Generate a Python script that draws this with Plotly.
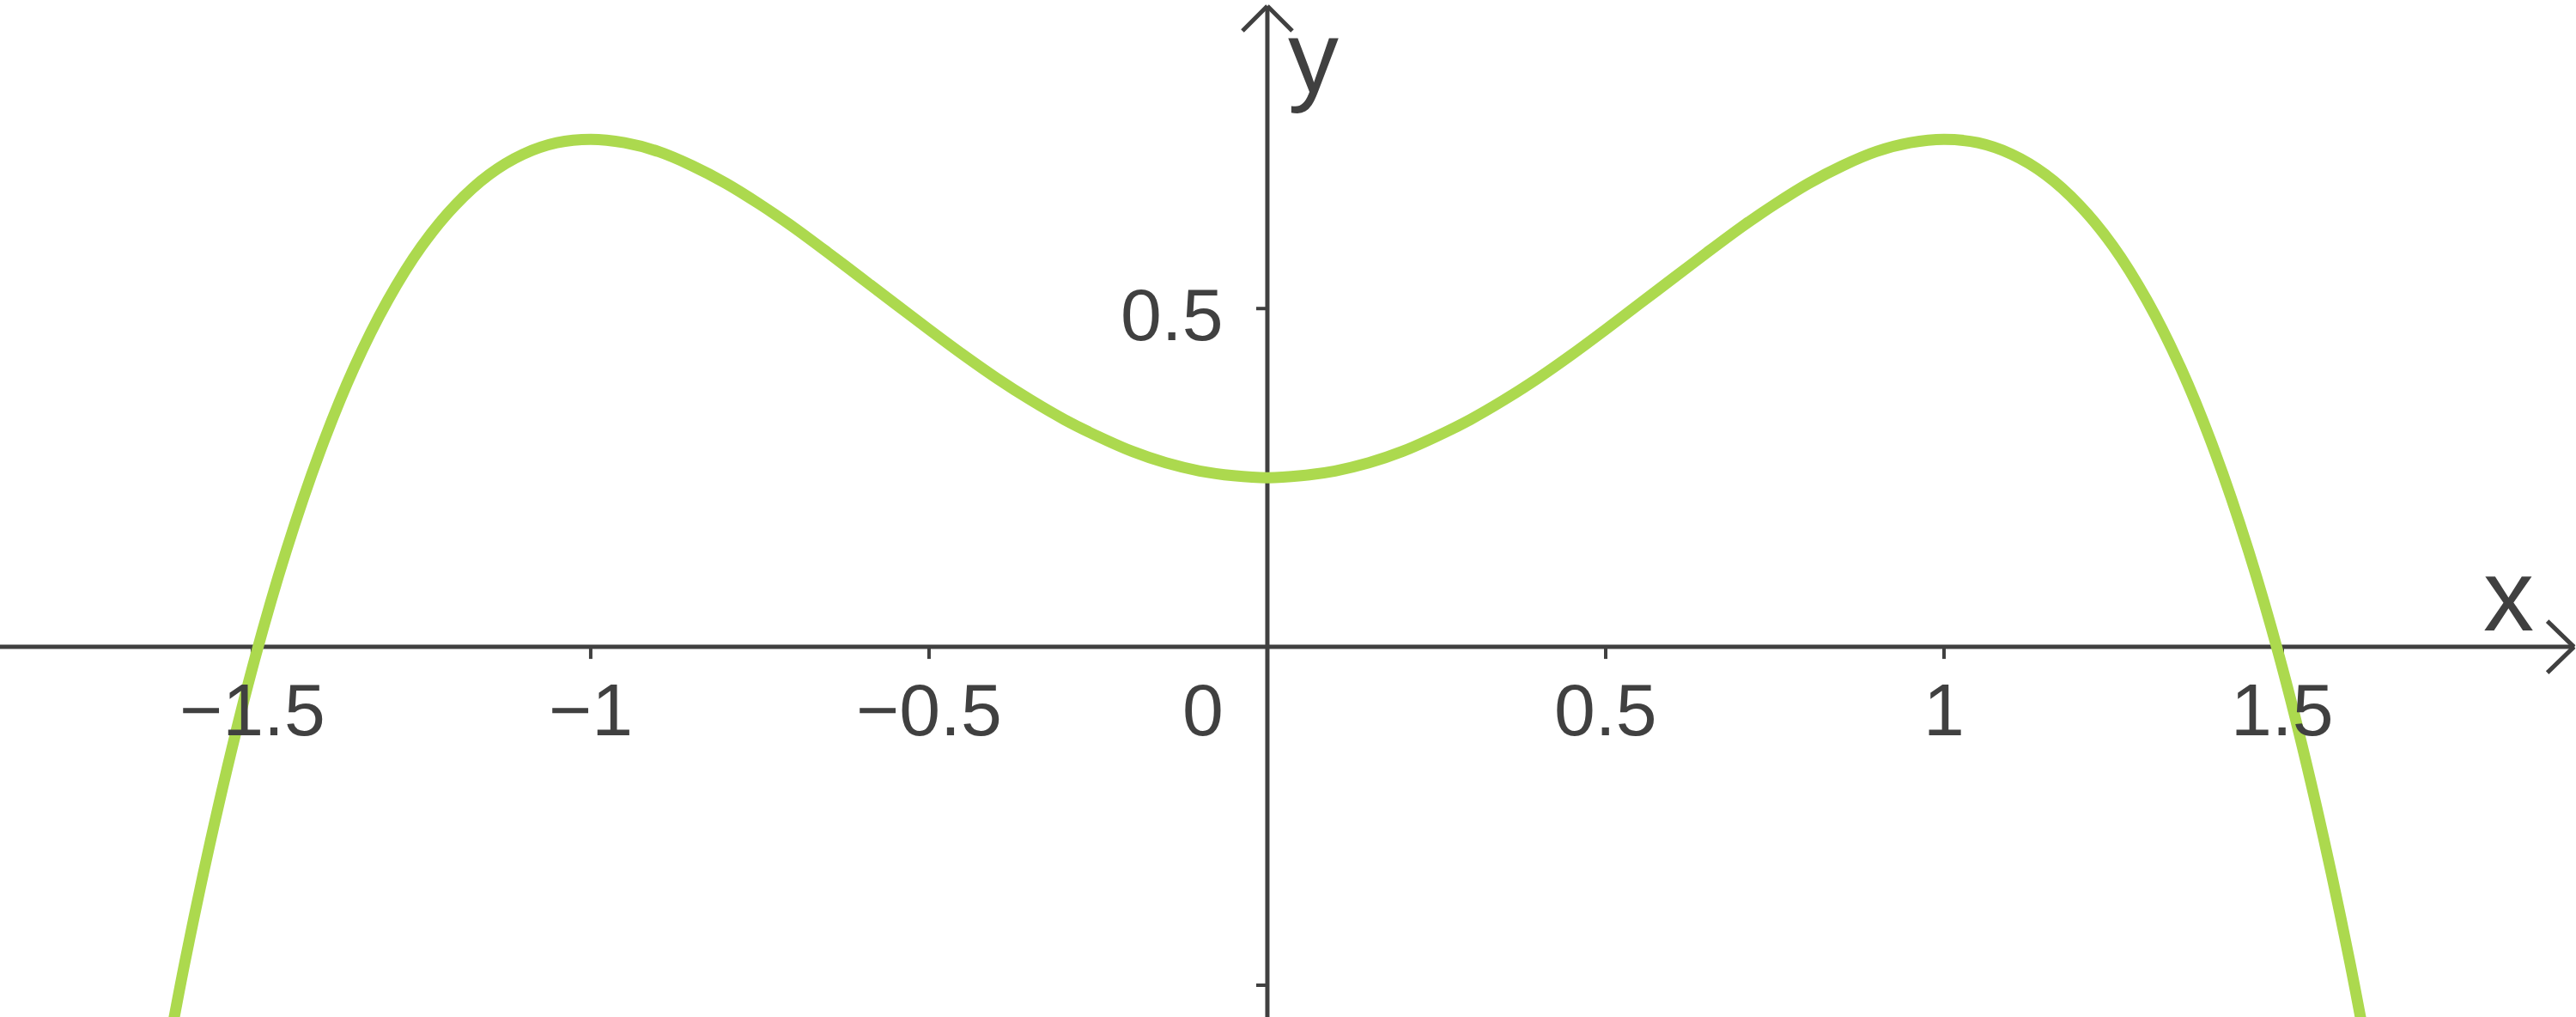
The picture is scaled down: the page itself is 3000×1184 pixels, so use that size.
import plotly.graph_objects as go

# curve samples
x_values = [-1.65, -1.6, -1.55, -1.5, -1.45, -1.4, -1.35, -1.3, -1.25, -1.2, -1.15, -1.1, -1.05,
            -1.0, -0.95, -0.9, -0.85, -0.8, -0.75, -0.7, -0.65, -0.6, -0.55, -0.5, -0.45,
            -0.4, -0.35, -0.3, -0.25, -0.2, -0.15, -0.1, -0.05, 0.0,
            0.05, 0.1, 0.15, 0.2, 0.25, 0.3, 0.35, 0.4, 0.45, 0.5, 0.55, 0.6, 0.65,
            0.7, 0.75, 0.8, 0.85, 0.9, 0.95, 1.0, 1.05, 1.1, 1.15, 1.2, 1.25,
            1.3, 1.35, 1.4, 1.45, 1.5, 1.55, 1.6, 1.65]
y_values = [-0.734, -0.467, -0.234, -0.031, 0.142, 0.289, 0.412, 0.512, 0.592, 0.653, 0.698, 0.728, 0.745,
            0.750, 0.745, 0.732, 0.711, 0.685, 0.654, 0.620, 0.583, 0.545, 0.507, 0.469, 0.432,
            0.397, 0.365, 0.336, 0.311, 0.289, 0.272, 0.260, 0.253, 0.250,
            0.253, 0.260, 0.272, 0.289, 0.311, 0.336, 0.365, 0.397, 0.432, 0.469, 0.507, 0.545, 0.583,
            0.620, 0.654, 0.685, 0.711, 0.732, 0.745, 0.750, 0.745, 0.728, 0.698, 0.653, 0.592,
            0.512, 0.412, 0.289, 0.142, -0.031, -0.234, -0.467, -0.734]

x_ticks = [-1.5, -1.0, -0.5, 0.0, 0.5, 1.0, 1.5]
x_tick_text = ["−1.5", "−1", "−0.5", "0", "0.5", "1", "1.5"]
y_ticks = [0.5, -0.5]
y_tick_text = ["0.5", ""]

x_range = [-1.873, 1.934]
y_range = [-0.547, 0.956]

axis_color = "#404040"
curve_color = "#acd94e"
font_family = "Liberation Sans, Arial, sans-serif"

fig = go.Figure()
fig.add_trace(go.Scatter(x=x_values, y=y_values, mode="lines",
                         line=dict(color=curve_color, width=13, shape="spline", smoothing=0.8),
                         hoverinfo="skip"))

shapes = []
# axes
shapes.append(dict(type="line", xref="x", yref="y", x0=x_range[0], x1=x_range[1] - 0.002,
                   y0=0, y1=0, line=dict(color=axis_color, width=5), layer="below"))
shapes.append(dict(type="line", xref="x", yref="y", x0=0, x1=0,
                   y0=y_range[0], y1=y_range[1] - 0.009, line=dict(color=axis_color, width=5), layer="below"))

# arrow heads (open chevrons)
x_tip = x_range[1] - 0.003
for dy in (30, -30):
    shapes.append(dict(type="line", xref="x", yref="y", xsizemode="pixel", ysizemode="pixel",
                       xanchor=x_tip, yanchor=0, x0=0, x1=-31, y0=0, y1=dy,
                       line=dict(color=axis_color, width=5)))
y_tip = y_range[1] - 0.009
for dx in (29, -29):
    shapes.append(dict(type="line", xref="x", yref="y", xsizemode="pixel", ysizemode="pixel",
                       xanchor=0, yanchor=y_tip, x0=0, x1=dx, y0=0, y1=-29,
                       line=dict(color=axis_color, width=5)))

# tick marks
for v in x_ticks:
    shapes.append(dict(type="line", xref="x", yref="y", ysizemode="pixel", yanchor=0,
                       x0=v, x1=v, y0=0, y1=-14, line=dict(color=axis_color, width=4), layer="below"))
for v in y_ticks:
    shapes.append(dict(type="line", xref="x", yref="y", xsizemode="pixel", xanchor=0,
                       x0=0, x1=-13, y0=v, y1=v, line=dict(color=axis_color, width=4), layer="below"))

tick_font = dict(size=86, color=axis_color, family=font_family)
annotations = []
for v, t in zip(x_ticks, x_tick_text):
    if v == 0:
        annotations.append(dict(x=0, y=0, text=t, showarrow=False, xanchor="right", yanchor="middle",
                                xshift=-49, yshift=-73, font=tick_font))
    else:
        annotations.append(dict(x=v, y=0, text=t, showarrow=False, xanchor="center", yanchor="middle",
                                yshift=-73, font=tick_font))
for v, t in zip(y_ticks, y_tick_text):
    if t:
        annotations.append(dict(x=0, y=v, text=t, showarrow=False, xanchor="right", yanchor="middle",
                                xshift=-49, yshift=-7, font=tick_font))

label_font = dict(size=118, color=axis_color, family=font_family)
annotations.append(dict(x=1.835, y=0, text="x", showarrow=False, xanchor="center", yanchor="middle",
                        yshift=60, font=label_font))
annotations.append(dict(x=0.068, y=0.872, text="y", showarrow=False, xanchor="center", yanchor="middle",
                        font=label_font))

fig.update_layout(
    width=3000, height=1184,
    margin=dict(l=0, r=0, t=0, b=0),
    paper_bgcolor="white", plot_bgcolor="white",
    showlegend=False,
    xaxis=dict(range=x_range, visible=False, fixedrange=True),
    yaxis=dict(range=y_range, visible=False, fixedrange=True),
    shapes=shapes,
    annotations=annotations,
)

# drop the default page margin so the 3000x1184 figure fills the window exactly
fig.write_html("out.html", config={"displayModeBar": False},
               post_script="document.body.style.margin='0';document.body.style.overflow='hidden';")
